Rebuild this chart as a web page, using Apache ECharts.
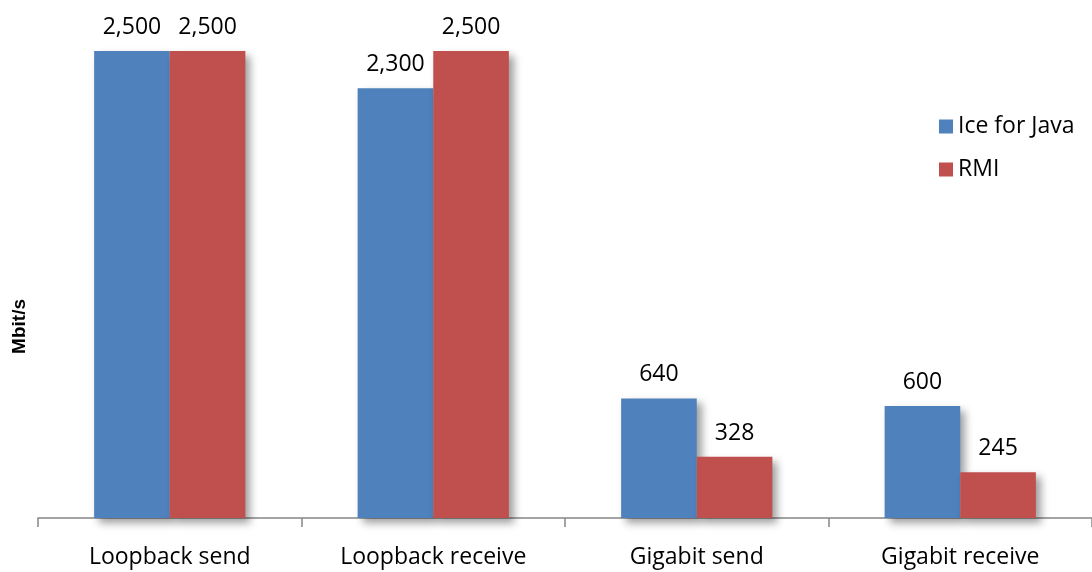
<!DOCTYPE html>
<html><head><meta charset="utf-8">
<script src="https://cdn.jsdelivr.net/npm/echarts@6/dist/echarts.min.js"></script>
<style>html,body{margin:0;padding:0;background:#fff}#c{width:1092px;height:572px}</style>
</head><body><div id="c"></div>
<script>
const categories = ['Loopback send', 'Loopback receive', 'Gigabit send', 'Gigabit receive'];
const iceForJava = [2500, 2300, 640, 600];
const rmi = [2500, 2500, 328, 245];
const seriesNames = ['Ice for Java', 'RMI'];
const yAxisTitle = 'Mbit/s';

const chart = echarts.init(document.getElementById('c'));
const font = 'Open Sans';
const shadow = {shadowBlur: 8, shadowOffsetX: 5, shadowOffsetY: 5, shadowColor: 'rgba(0,0,0,0.38)'};
const label = {show: true, position: 'top', distance: 12, color: '#000', fontFamily: font, fontSize: 23,
  formatter: p => p.value.toLocaleString('en-US')};
chart.setOption({
  animation: false,
  grid: {left: 38, width: 1059, top: 51, bottom: 54},
  legend: {orient: 'vertical', left: 934, top: 110, itemWidth: 14, itemHeight: 14, itemGap: 20,
    icon: 'rect', textStyle: {fontFamily: font, fontSize: 23, color: '#000', padding: [0,0,0,0]}},
  xAxis: {type: 'category', data: categories,
    axisLine: {lineStyle: {color: '#868686', width: 1.5}},
    axisTick: {show: true, length: 9, lineStyle: {color: '#868686', width: 1.5}},
    axisLabel: {fontFamily: font, fontSize: 23, color: '#000', margin: 28}},
  yAxis: {type: 'value', min: 0, max: 2500, show: false},
  graphic: [{type: 'text', left: 10, top: 299, rotation: Math.PI/2,
    style: {text: yAxisTitle, fontFamily: 'Liberation Sans', fontSize: 19, fontWeight: 'bold', fill: '#000'}}],
  series: [
    {name: seriesNames[0], type: 'bar', data: iceForJava, barWidth: '28.7%', barGap: '0%',
      itemStyle: Object.assign({color: '#4F81BD'}, shadow), label},
    {name: seriesNames[1], type: 'bar', data: rmi, barWidth: '28.7%',
      itemStyle: Object.assign({color: '#C0504D'}, shadow), label}
  ]
});
</script></body></html>
